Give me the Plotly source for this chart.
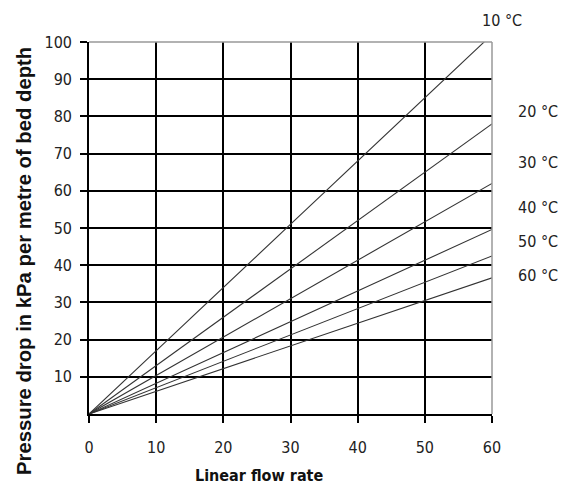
import plotly.graph_objects as go

flow_rate = [0, 60]
temps = ["10 °C", "20 °C", "30 °C", "40 °C", "50 °C", "60 °C"]
drop_10 = [0, 102]
drop_20 = [0, 78]
drop_30 = [0, 62]
drop_40 = [0, 49.6]
drop_50 = [0, 42.5]
drop_60 = [0, 36.6]
series = [drop_10, drop_20, drop_30, drop_40, drop_50, drop_60]
x_ticks = [0, 10, 20, 30, 40, 50, 60]
y_ticks = [10, 20, 30, 40, 50, 60, 70, 80, 90, 100]

FONT = "DejaVu Sans Condensed, Liberation Sans Narrow, Arial Narrow, sans-serif"
TFONT = "Liberation Sans, Arial, sans-serif"

fig = go.Figure()
for name, ys in zip(temps, series):
    fig.add_trace(go.Scatter(x=flow_rate, y=ys, mode="lines", name=name,
                             line=dict(color="#333333", width=1.1), showlegend=False))

# label positions (paper coordinates)
label_pos = [(1.024, 1.059), (1.114, 0.8145), (1.114, 0.677), (1.114, 0.554), (1.114, 0.465), (1.114, 0.371)]
for name, (lx, ly) in zip(temps, label_pos):
    fig.add_annotation(x=lx, y=ly, xref="paper", yref="paper", text=name, showarrow=False,
                       xanchor="center", yanchor="middle",
                       font=dict(family=FONT, size=16, color="#222222"))

fig.add_annotation(x=0.424, y=-0.164, xref="paper", yref="paper", text="<b>Linear flow rate</b>",
                   showarrow=False, xanchor="center", yanchor="middle",
                   font=dict(family=FONT, size=16, color="#111111"))
fig.add_annotation(x=-0.16, y=0.41, xref="paper", yref="paper",
                   text="<b>Pressure drop in kPa per metre of bed depth</b>", textangle=-90,
                   showarrow=False, xanchor="center", yanchor="middle",
                   font=dict(family=TFONT, size=20.3, color="#111111"))

fig.update_layout(
    width=568, height=487,
    margin=dict(l=89, r=76, t=42, b=73),
    plot_bgcolor="white", paper_bgcolor="white",
    font=dict(family=FONT, size=16, color="#222222"),
    xaxis=dict(range=[0, 60], tickvals=x_ticks, ticks="outside", ticklen=7, tickwidth=1.6,
               tickcolor="black", showgrid=True, gridcolor="black", gridwidth=1.6,
               showline=True, linecolor="black", linewidth=1.6, zeroline=False,
               ticklabelstandoff=11, tickfont=dict(family=FONT, size=16)),
    yaxis=dict(range=[0, 100], tickvals=y_ticks, ticks="outside", ticklen=7, tickwidth=1.6,
               tickcolor="black", showgrid=True, gridcolor="black", gridwidth=1.6,
               showline=True, linecolor="black", linewidth=1.6, zeroline=False,
               ticklabelstandoff=5, tickfont=dict(family=FONT, size=16)),
)

fig.add_shape(type="line", xref="paper", yref="paper", x0=0, x1=1, y0=1, y1=1,
              line=dict(color="#999999", width=1.5), layer="above")
fig.add_shape(type="line", xref="paper", yref="paper", x0=1, x1=1, y0=0, y1=1,
              line=dict(color="#999999", width=1.5), layer="above")

fig.write_html("out.html", config={"displayModeBar": False},
               post_script="document.body.style.margin='0px';")
